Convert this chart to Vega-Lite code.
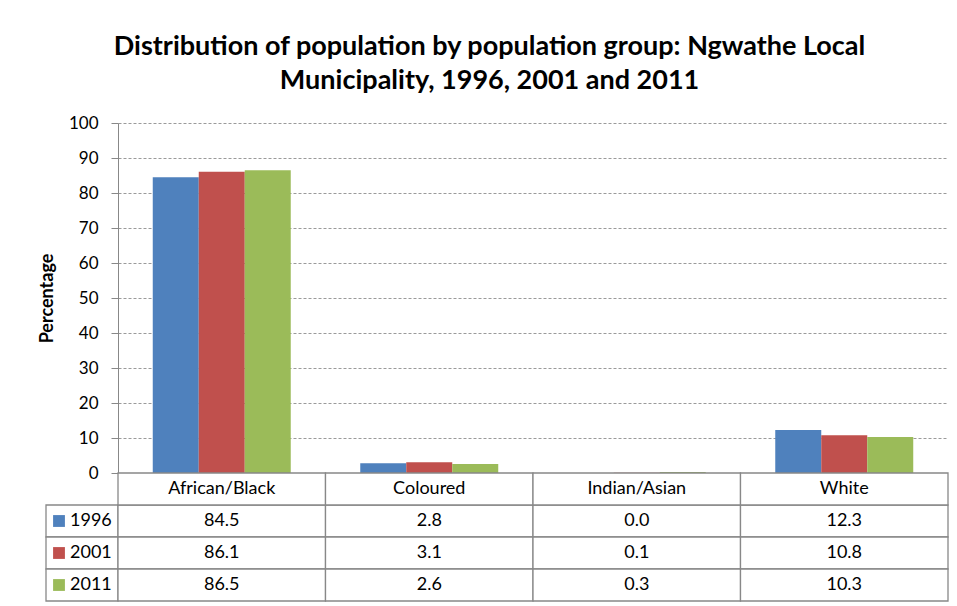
{
  "$schema": "https://vega.github.io/schema/vega-lite/v6.json",
  "padding": {"left": 38, "top": 33, "right": 5, "bottom": 0},
  "title": {
    "text": ["Distribution of population by population group: Ngwathe Local", "Municipality, 1996, 2001 and 2011"],
    "font": "Lato",
    "fontSize": 27,
    "fontWeight": "bold",
    "color": "#000000",
    "anchor": "middle",
    "lineHeight": 34,
    "offset": 19,
    "dx": -4
  },
  "datasets": {
    "pop": [
      {"group": "African/Black", "year": "1996", "value": 84.5},
      {"group": "African/Black", "year": "2001", "value": 86.1},
      {"group": "African/Black", "year": "2011", "value": 86.5},
      {"group": "Coloured", "year": "1996", "value": 2.8},
      {"group": "Coloured", "year": "2001", "value": 3.1},
      {"group": "Coloured", "year": "2011", "value": 2.6},
      {"group": "Indian/Asian", "year": "1996", "value": 0.0},
      {"group": "Indian/Asian", "year": "2001", "value": 0.1},
      {"group": "Indian/Asian", "year": "2011", "value": 0.3},
      {"group": "White", "year": "1996", "value": 12.3},
      {"group": "White", "year": "2001", "value": 10.8},
      {"group": "White", "year": "2011", "value": 10.3}
    ]
  },
  "columns": 2,
  "spacing": 0,
  "bounds": "flush",
  "concat": [
    {
      "width": 72,
      "height": 350,
      "data": {"values": [{}]},
      "mark": {"type": "text"},
      "encoding": {"text": {"value": ""}}
    },
    {
      "width": 830,
      "height": 350,
      "data": {"name": "pop"},
      "mark": {"type": "bar"},
      "encoding": {
        "x": {"field": "group", "type": "nominal", "sort": null, "scale": {"paddingInner": 0.335, "paddingOuter": 0.1675}, "axis": null},
        "xOffset": {"field": "year", "type": "nominal"},
        "y": {
          "field": "value",
          "type": "quantitative",
          "scale": {"domain": [0, 100]},
          "axis": {
            "title": "Percentage",
            "values": [0, 10, 20, 30, 40, 50, 60, 70, 80, 90, 100],
            "grid": true,
            "gridDash": [3, 2],
            "gridColor": "#9a9a9a",
            "domainColor": "#888888",
            "tickColor": "#888888",
            "tickSize": 7,
            "labelFont": "Lato",
            "labelFontSize": 17,
            "labelColor": "#000000",
            "labelPadding": 13,
            "titleFont": "Lato",
            "titleFontSize": 18,
            "titleFontWeight": "bold",
            "titleColor": "#000000",
            "titlePadding": 12
          }
        },
        "color": {"field": "year", "type": "nominal", "scale": {"domain": ["1996", "2001", "2011"], "range": ["#4F81BD", "#C0504D", "#9BBB59"]}, "legend": null}
      }
    },
    {
      "width": 72,
      "height": 128,
      "data": {"name": "pop"},
      "transform": [{"filter": "datum.group == 'African/Black'"}],
      "encoding": {
        "y": {"field": "year", "type": "nominal", "scale": {"domain": ["Header", "1996", "2001", "2011"], "paddingInner": 0, "paddingOuter": 0}, "axis": null}
      },
      "layer": [
        {"mark": {"type": "rect", "fill": "#ffffff", "stroke": "#888888", "strokeWidth": 1.3}},
        {
          "mark": {"type": "point", "shape": "square", "filled": true, "size": 140, "opacity": 1, "xOffset": -23},
          "encoding": {"color": {"field": "year", "type": "nominal", "scale": {"domain": ["1996", "2001", "2011"], "range": ["#4F81BD", "#C0504D", "#9BBB59"]}, "legend": null}}
        },
        {
          "mark": {"type": "text", "align": "left", "dx": -12, "font": "Lato", "fontSize": 18, "color": "#000000"},
          "encoding": {"text": {"field": "year"}}
        }
      ]
    },
    {
      "width": 830,
      "height": 128,
      "data": {"name": "pop"},
      "encoding": {
        "x": {"field": "group", "type": "nominal", "sort": null, "scale": {"paddingInner": 0, "paddingOuter": 0}, "axis": null}
      },
      "layer": [
        {
          "mark": {"type": "rect", "fill": "#ffffff", "stroke": "#888888", "strokeWidth": 1.3},
          "encoding": {"y": {"field": "year", "type": "nominal", "scale": {"domain": ["Header", "1996", "2001", "2011"], "paddingInner": 0, "paddingOuter": 0}, "axis": null}}
        },
        {
          "mark": {"type": "text", "font": "Lato", "fontSize": 18, "color": "#000000"},
          "encoding": {
            "y": {"field": "year", "type": "nominal", "scale": {"domain": ["Header", "1996", "2001", "2011"], "paddingInner": 0, "paddingOuter": 0}, "axis": null},
            "text": {"field": "value", "type": "quantitative", "format": ".1f"}
          }
        },
        {
          "transform": [{"filter": "datum.year == '1996'"}],
          "mark": {"type": "rect", "fill": "#ffffff", "stroke": "#888888", "strokeWidth": 1.3},
          "encoding": {"y": {"datum": "Header", "type": "nominal", "scale": {"domain": ["Header", "1996", "2001", "2011"], "paddingInner": 0, "paddingOuter": 0}, "axis": null}}
        },
        {
          "transform": [{"filter": "datum.year == '1996'"}],
          "mark": {"type": "text", "font": "Lato", "fontSize": 18, "color": "#000000"},
          "encoding": {
            "y": {"datum": "Header", "type": "nominal", "scale": {"domain": ["Header", "1996", "2001", "2011"], "paddingInner": 0, "paddingOuter": 0}, "axis": null},
            "text": {"field": "group"}
          }
        }
      ]
    }
  ],
  "config": {
    "view": {"stroke": null},
    "background": "#ffffff"
  }
}
